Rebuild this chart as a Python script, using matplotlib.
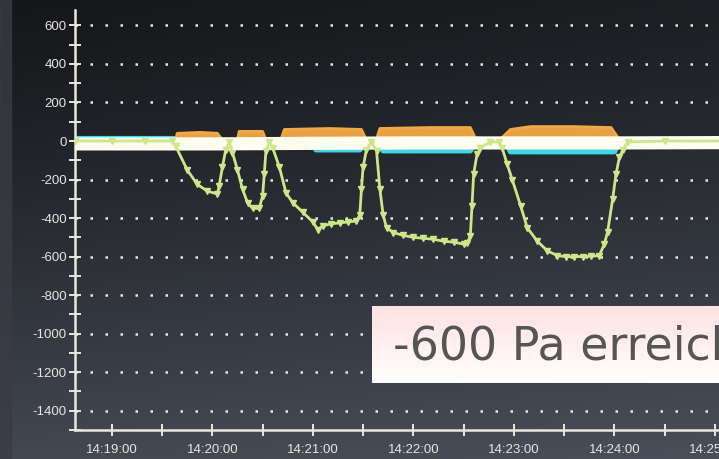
import matplotlib
matplotlib.use("Agg")
import matplotlib.pyplot as plt
import numpy as np
from matplotlib.ticker import FuncFormatter, MultipleLocator

plt.rcParams["axes.unicode_minus"] = False

# time in seconds after 14:19:00, pressure in Pa
t_green = [-22, 0, 20, 36, 38, 45, 51, 57, 63, 64, 66, 68, 70,
           72, 75, 78, 81, 84, 88, 90, 91, 92, 94,
           96, 100, 104, 108, 114, 120, 123, 126, 131, 136, 141, 146, 148, 149, 150, 152, 155,
           158, 160, 162, 164, 168, 174, 180, 186, 192, 198, 204, 210, 212, 214, 215, 216, 218, 220, 226, 231,
           233, 236, 239, 244, 248, 254, 260, 266, 271, 276, 281, 286, 291, 294, 296, 299, 301, 303, 305, 308, 330, 375]
p_green = [0, 0, 0, 0, -25, -150, -225, -260, -275, -235, -135, -45, -5,
           -60, -150, -250, -320, -350, -350, -285, -170, -50, -5,
           -35, -135, -270, -320, -370, -420, -460, -440, -430, -425, -420, -415, -385, -250, -135, -45, -5,
           -50, -250, -385, -450, -475, -490, -500, -505, -510, -520, -525, -535, -530, -495, -335, -170, -70, -35, -5, -5,
           -35, -120, -200, -335, -450, -520, -570, -595, -600, -600, -600, -598, -595, -535, -470, -300, -170, -85, -45, -5, 0, 0]

t_orange = [-22, 38, 39, 53, 63, 66, 75, 76, 90, 92, 101, 103, 130, 149, 152, 158, 160, 190, 214, 217,
            232, 238, 250, 275, 298, 302, 305, 375]
p_orange = [0, 0, 40, 45, 40, 5, 5, 50, 50, 5, 10, 60, 65, 60, 5, 10, 65, 70, 70, 15,
            10, 60, 75, 75, 70, 20, 0, 0]

t_cyan = [-22, 36, 60, 120, 122, 148, 152, 160, 162, 214, 217, 235, 238, 300, 303, 340, 375]
p_cyan = [12, 12, 0, 0, -45, -45, 0, 0, -50, -50, 0, 0, -55, -55, 0, 0, 8]

t_white = [-22, 60, 120, 180, 240, 300, 375]
p_white = [-15, -15, -12, -10, -10, -10, -8]

fig = plt.figure(figsize=(7.19, 4.59), dpi=100)

# photo-like dark screen background
bg = fig.add_axes([0, 0, 1, 1], zorder=-10)
yy, xx = np.mgrid[0:1:200j, 0:1:200j]
shade = 0.09 + 0.19 * yy ** 1.2 + 0.03 * xx
rgb = np.dstack([shade * 0.93, shade * 1.0, shade * 1.14])
bg.imshow(np.clip(rgb, 0, 1), extent=[0, 1, 0, 1], aspect="auto", origin="upper")
bg.axvspan(0, 11 / 719, color="#3a3c44", alpha=0.8)
bg.set_xlim(0, 1)
bg.set_ylim(0, 1)
bg.axis("off")

W, H = 719, 459
ax = fig.add_axes([75 / W, (H - 430) / H, 665 / W, 420 / H])
ax.patch.set_alpha(0)

ax.plot(t_cyan, p_cyan, color="#3fd6e6", lw=4, solid_capstyle="butt", zorder=2)
ax.fill_between(t_orange, 0, p_orange, color="#e8a040", lw=0, zorder=3)
ax.plot(t_orange, p_orange, color="#f0a848", lw=2, zorder=3)
ax.plot(t_white, p_white, color="#fffcf0", lw=9.5, zorder=4)
ax.plot(t_green, p_green, color="#cde68a", lw=2, marker="v", ms=5,
        markevery=1, zorder=5)

ax.set_xlim(-22, 375)
ax.set_ylim(-1500, 680)

ax.set_yticks(np.arange(-1400, 601, 200))
ax.yaxis.set_minor_locator(MultipleLocator(100))
ax.xaxis.set_major_locator(MultipleLocator(60))
ax.xaxis.set_minor_locator(MultipleLocator(30))

def fmt_time(v, pos):
    s = int(round(v)) + 19 * 60
    return "14:%02d:%02d" % (s // 60, s % 60)

ax.xaxis.set_major_formatter(FuncFormatter(fmt_time))

for y in np.arange(-1400, 601, 200):
    ax.axhline(y, color="#e8e8e0", lw=1.8, ls=(0, (1, 5)), zorder=1)

for s in ["top", "right"]:
    ax.spines[s].set_visible(False)
for s in ["left", "bottom"]:
    ax.spines[s].set_color("#e8e8dc")
    ax.spines[s].set_linewidth(1.8)

ax.tick_params(axis="both", which="both", colors="#e8e8dc", direction="inout",
               width=1.4, length=8, labelsize=9.5)
ax.tick_params(axis="x", pad=6)
ax.tick_params(axis="y", pad=2)
for lbl in ax.get_xticklabels() + ax.get_yticklabels():
    lbl.set_family("Liberation Sans")
    lbl.set_color("#e6e6e0")

# callout box
box = fig.add_axes([372 / W, (H - 383) / H, 360 / W, 77 / H], zorder=10)
grad = np.linspace(0, 1, 100)[:, None]
colors = np.dstack([np.ones_like(grad), 0.88 + 0.12 * grad, 0.88 + 0.12 * grad])
box.imshow(colors, extent=[0, 1, 0, 1], aspect="auto", origin="upper")
box.set_xlim(0, 1)
box.set_ylim(0, 1)
box.axis("off")
box.text(21 / 360, 0.47, "-600 Pa erreicht", fontsize=33, color="#555555",
         family="DejaVu Sans", va="center", ha="left")

fig.savefig("out.png", dpi=100)
